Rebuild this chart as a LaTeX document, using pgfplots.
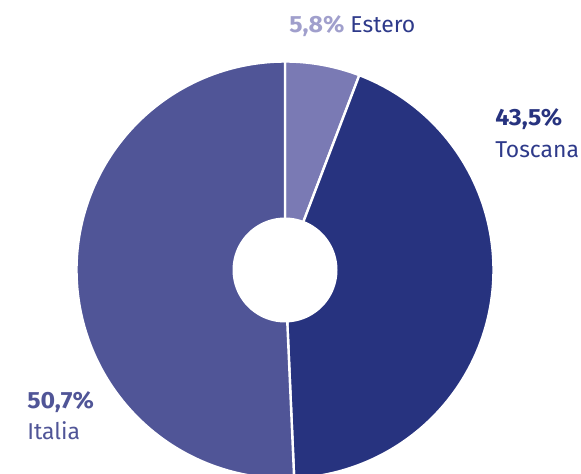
\documentclass[border=0pt]{standalone}
\usepackage{pgfplots}
\pgfplotsset{compat=1.18}
\usepackage{fontspec}
\setmainfont{Fira Sans}
\definecolor{cEst}{HTML}{7A7AB4}
\definecolor{cTos}{HTML}{27337F}
\definecolor{cIta}{HTML}{505597}
\definecolor{tEst}{HTML}{A09FCC}
\definecolor{tNavy}{HTML}{2E3A8A}
% shares in percent, clockwise from the top
\def\vEst{5.8}
\def\vTos{43.5}
\def\vIta{50.7}
\pgfmathsetmacro\aA{90}
\pgfmathsetmacro\aB{\aA-3.6*\vEst}
\pgfmathsetmacro\aC{\aB-3.6*\vTos}
\pgfmathsetmacro\aD{\aC-3.6*\vIta}
\def\cx{285}\def\cy{-270}\def\R{208.5}\def\r{52.5}
\newcommand\lbl{\fontsize{17.2}{20}\selectfont}
\newcommand\bnum{\fontsize{17.6}{20}\selectfont\bfseries\addfontfeature{FakeStretch=1.06}}
\tikzset{
  wedge/.style={draw=white, line width=1.8pt, line join=round},
  lab/.style={anchor=base west, inner sep=0pt}}
\begin{document}
\begin{tikzpicture}
\begin{axis}[hide axis, scale only axis, width=435.75pt, height=355.5pt,
  xmin=0, xmax=581, ymin=-474, ymax=0, clip=true]
  \addplot[wedge, fill=cEst, domain=\aB:\aA, samples=40, variable=\t]
    ({\cx+\R*cos(\t)}, {\cy+\R*sin(\t)}) -- (axis cs:\cx,\cy) -- cycle;
  \addplot[wedge, fill=cTos, domain=\aC:\aB, samples=120, variable=\t]
    ({\cx+\R*cos(\t)}, {\cy+\R*sin(\t)}) -- (axis cs:\cx,\cy) -- cycle;
  \addplot[wedge, fill=cIta, domain=\aD:\aC, samples=120, variable=\t]
    ({\cx+\R*cos(\t)}, {\cy+\R*sin(\t)}) -- (axis cs:\cx,\cy) -- cycle;
  \addplot[fill=white, draw=none, domain=0:360, samples=120, variable=\t]
    ({\cx+\r*cos(\t)}, {\cy+\r*sin(\t)}) -- cycle;
  \node[lab, text=tNavy] at (axis cs:289,-33)
    {{\bnum\color{tEst}5,8\%}\lbl\ Estero};
  \node[lab, text=cTos] at (axis cs:495,-126) {\bnum 43,5\%};
  \node[lab, text=tNavy] at (axis cs:495,-158) {\lbl Toscana};
  \node[lab, text=cIta] at (axis cs:27,-409) {\bnum 50,7\%};
  \node[lab, text=cIta] at (axis cs:27,-440) {\lbl Italia};
\end{axis}
\pgfresetboundingbox
\useasboundingbox (current axis.south west) rectangle (current axis.north east);
\end{tikzpicture}
\end{document}
